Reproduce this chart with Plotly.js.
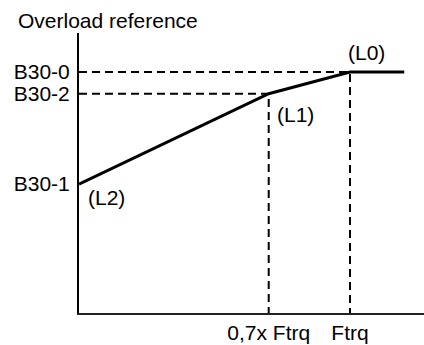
<!DOCTYPE html>
<html>
<head>
<meta charset="utf-8">
<script src="https://cdn.plot.ly/plotly-3.0.1.min.js"></script>
<style>html,body{margin:0;padding:0;background:#fff;}#chart{width:424px;height:345px;}</style>
</head>
<body>
<div id="chart"></div>
<script>
// Frequency axis (in units of Ftrq) and overload reference levels (B30-0 = 100)
const freqPoints = [0, 0.7, 1.0, 1.2];
const overloadRef = [53.5, 91, 100, 100];
const xTickVals = [0.7, 1.0];
const xTickText = ['0,7x Ftrq', 'Ftrq'];
const yTickVals = [100, 91, 53.5];
const yTickText = ['B30-0', 'B30-2', 'B30-1'];
const pointLabels = ['(L2)', '(L1)', '(L0)'];

const FONT = 'Liberation Sans, Arial, Helvetica, sans-serif';
const FS = 21;

const traces = [
  // guide: B30-2 to 0,7x Ftrq
  {x: [0, freqPoints[1], freqPoints[1]], y: [overloadRef[1], overloadRef[1], 0],
   mode: 'lines', line: {color: '#000', width: 2, dash: '8px,5px'}, hoverinfo: 'skip'},
  // guide: B30-0 to Ftrq
  {x: [0, freqPoints[2], freqPoints[2]], y: [overloadRef[2], overloadRef[2], 0],
   mode: 'lines', line: {color: '#000', width: 2, dash: '8px,5px'}, hoverinfo: 'skip'},
  // main curve
  {x: freqPoints, y: overloadRef, mode: 'lines', line: {color: '#000', width: 3}}
];

const layout = {
  width: 424, height: 345,
  margin: {l: 79, r: 0, t: 33, b: 32, pad: 0},
  paper_bgcolor: '#fff', plot_bgcolor: '#fff',
  showlegend: false,
  font: {family: FONT, size: FS, color: '#000'},
  xaxis: {
    range: [0, 1.273], showgrid: false, zeroline: false,
    showline: true, linecolor: '#222', linewidth: 2,
    tickvals: xTickVals, ticktext: xTickText, ticks: '',
    ticklabelstandoff: 0,
    tickfont: {family: FONT, size: FS, color: '#000'}
  },
  yaxis: {
    range: [0, 116.2], showgrid: false, zeroline: false,
    showline: true, linecolor: '#000', linewidth: 2,
    tickvals: yTickVals, ticktext: yTickText, ticks: '',
    ticklabelstandoff: 3,
    tickfont: {family: FONT, size: FS, color: '#000'}
  },
  annotations: [
    {text: 'Overload reference', xref: 'paper', yref: 'paper', x: -0.184, y: 1.046,
     xanchor: 'left', yanchor: 'middle', showarrow: false, font: {family: FONT, size: FS}},
    {text: pointLabels[0], x: freqPoints[0], y: overloadRef[0], xref: 'x', yref: 'y',
     xanchor: 'center', yanchor: 'middle', xshift: 27, yshift: -13, showarrow: false},
    {text: pointLabels[1], x: freqPoints[1], y: overloadRef[1], xref: 'x', yref: 'y',
     xanchor: 'center', yanchor: 'middle', xshift: 27, yshift: -21, showarrow: false},
    {text: pointLabels[2], x: freqPoints[2], y: overloadRef[2], xref: 'x', yref: 'y',
     xanchor: 'center', yanchor: 'middle', xshift: 16, yshift: 20, showarrow: false}
  ]
};

Plotly.newPlot('chart', traces, layout, {staticPlot: true, displayModeBar: false});
</script>
</body>
</html>
